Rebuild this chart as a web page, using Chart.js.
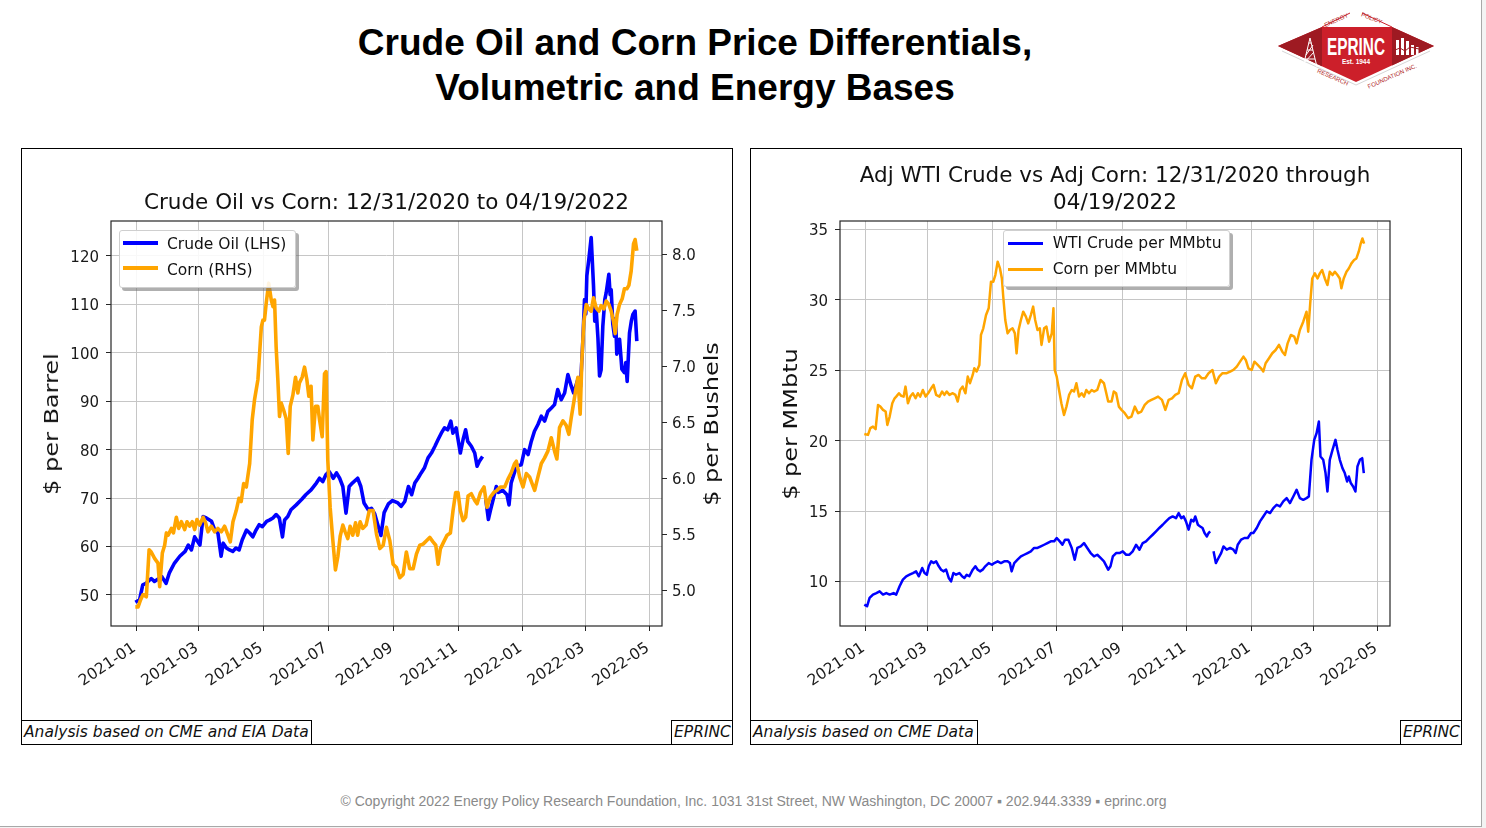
<!DOCTYPE html>
<html>
<head>
<meta charset="utf-8">
<script src="https://cdn.jsdelivr.net/npm/chart.js"></script>
<style>
html,body{margin:0;padding:0}
body{width:1486px;height:828px;background:#f3f3f3;position:relative;overflow:hidden;font-family:'DejaVu Sans',sans-serif}
#slide{position:absolute;left:0;top:0;width:1481px;height:826px;background:#fff;border-right:1px solid #a8a8a8;border-bottom:1px solid #a8a8a8}
.title{position:absolute;left:0;width:1390px;text-align:center;font-family:'Liberation Sans',Arial,sans-serif;font-weight:bold;font-size:37px;line-height:45px;color:#000}
.panel{position:absolute;top:148px;width:712px;height:597px;border:1px solid #000;box-sizing:border-box}
canvas{position:absolute}
.ctitle{position:absolute;font-size:21.5px;line-height:27.6px;color:#111;text-align:center;white-space:nowrap;transform:translateX(-50%)}
.ylab{position:absolute;font-size:20px;line-height:24px;white-space:nowrap;color:#111;transform:translate(-50%,-50%) rotate(-90deg) scale(1.2,1)}
.legend{position:absolute;border:1px solid #cfcfcf;border-radius:3px;background:rgba(255,255,255,0.88);box-shadow:3px 3px 0 rgba(110,110,110,0.55);box-sizing:border-box}
.sw{position:absolute;width:35px}
.lt{position:absolute;height:20px;font-size:15.5px;line-height:20px;color:#111;white-space:nowrap}
.note{position:absolute;top:720px;height:25px;border:1px solid #000;box-sizing:border-box;font-style:italic;font-size:15.5px;line-height:23px;padding-left:2px;white-space:nowrap;background:#fff;color:#111}
.footer{position:absolute;left:0;width:1507px;top:793px;text-align:center;font-family:'Liberation Sans',Arial,sans-serif;font-size:14px;line-height:16px;color:#8a8a8a;white-space:nowrap}
</style>
</head>
<body>
<div id="slide"></div>

<div class="title" style="top:20px">Crude Oil and Corn Price Differentials,</div>
<div class="title" style="top:65px">Volumetric and Energy Bases</div>

<svg width="180" height="92" viewBox="1268 0 180 92" style="position:absolute;left:1268px;top:0">
  <polygon points="1278,46 1322,27 1392,27 1434,46 1356,82" fill="#cc1f2a"/>
  <polygon points="1278,46 1322,27 1322,66.3" fill="#9e1a22"/>
  <polygon points="1434,46 1392,27 1392,65.4" fill="#9e1a22"/>
  <polyline points="1282,51 1356,85 1430,51" fill="none" stroke="#d6d6d6" stroke-width="1"/>
  <line x1="1322" y1="27" x2="1350" y2="13" stroke="#cc1f2a" stroke-width="1"/>
  <line x1="1392" y1="27" x2="1362" y2="13" stroke="#cc1f2a" stroke-width="1"/>
  <text x="1356" y="55" text-anchor="middle" font-family="'Liberation Sans Narrow','Liberation Sans',sans-serif" font-weight="bold" font-size="24" fill="#fff" textLength="58" lengthAdjust="spacingAndGlyphs">EPRINC</text>
  <text x="1356" y="63.5" text-anchor="middle" font-family="'Liberation Sans',sans-serif" font-weight="bold" font-size="6.5" fill="#fff">Est. 1944</text>
  <text transform="translate(1337,22) rotate(-24)" text-anchor="middle" font-family="'Liberation Sans',sans-serif" font-size="6" fill="#b01c22">ENERGY</text>
  <text transform="translate(1371,20) rotate(22)" text-anchor="middle" font-family="'Liberation Sans',sans-serif" font-size="6" fill="#b01c22">POLICY</text>
  <text transform="translate(1332,79) rotate(24)" text-anchor="middle" font-family="'Liberation Sans',sans-serif" font-size="6" fill="#b01c22">RESEARCH</text>
  <text transform="translate(1393,78) rotate(-24)" text-anchor="middle" font-family="'Liberation Sans',sans-serif" font-size="6" fill="#b01c22">FOUNDATION INC.</text>
  <path d="M1303,67 L1310,38 L1317,67 M1305,59 H1315 M1307,50 H1313 M1308.5,43 H1311.5 M1304,63 L1314,52 M1306,55 L1313,45" stroke="#fff" stroke-width="1" fill="none"/>
  <g fill="#fff">
    <rect x="1396" y="40" width="3" height="15"/><rect x="1401" y="38" width="3" height="17"/>
    <rect x="1406" y="41" width="3" height="14"/><rect x="1411" y="45" width="3" height="10"/>
    <rect x="1416" y="47" width="2.5" height="8"/>
  </g>
  <path d="M1395,50 L1400,48 L1405,51 L1410,47 L1419,49" stroke="#9e1a22" stroke-width="1" fill="none"/>
</svg>

<div class="panel" style="left:21px"></div>
<div class="panel" style="left:750px"></div>

<canvas id="c1" width="712" height="572" style="left:21px;top:148px;width:712px;height:572px"></canvas>
<canvas id="c2" width="712" height="572" style="left:750px;top:148px;width:712px;height:572px"></canvas>

<div class="ctitle" style="left:386.5px;top:187.6px">Crude Oil vs Corn: 12/31/2020 to 04/19/2022</div>
<div class="ctitle" style="left:1115px;top:160.5px">Adj WTI Crude vs Adj Corn: 12/31/2020 through<br>04/19/2022</div>

<div class="ylab" style="left:51px;top:423.5px">$ per Barrel</div>
<div class="ylab" style="left:711px;top:423.5px">$ per Bushels</div>
<div class="ylab" style="left:790px;top:423.5px">$ per MMbtu</div>

<div class="legend" style="left:118.7px;top:230px;width:177px;height:57.5px"></div>
<div class="sw" style="left:122.7px;top:240.7px;height:4px;background:#0000ff"></div>
<div class="sw" style="left:122.7px;top:266.3px;height:4px;background:#ffa500"></div>
<div class="lt" style="left:167px;top:234.3px">Crude Oil (LHS)</div>
<div class="lt" style="left:167px;top:260.3px">Corn (RHS)</div>

<div class="legend" style="left:1003.3px;top:230px;width:227px;height:57px"></div>
<div class="sw" style="left:1008.3px;top:241.8px;height:3px;background:#0000ff"></div>
<div class="sw" style="left:1008.3px;top:267.5px;height:3px;background:#ffa500"></div>
<div class="lt" style="left:1052.7px;top:233.3px">WTI Crude per MMbtu</div>
<div class="lt" style="left:1052.7px;top:259px">Corn per MMbtu</div>

<div class="note" style="left:21px;width:291px">Analysis based on CME and EIA Data</div>
<div class="note" style="left:671px;width:62px">EPRINC</div>
<div class="note" style="left:750px;width:228px">Analysis based on CME Data</div>
<div class="note" style="left:1400px;width:62px">EPRINC</div>

<div class="footer">© Copyright 2022 Energy Policy Research Foundation, Inc. 1031 31st Street, NW Washington, DC 20007 ▪ 202.944.3339 ▪ eprinc.org</div>

<script>
// x values are days counted from 2021-01-01
const tickDays = [0, 59, 120, 181, 243, 304, 365, 424, 485];
const tickLabels = ['2021-01','2021-03','2021-05','2021-07','2021-09','2021-11','2022-01','2022-03','2022-05'];
const barrelTicks = [50, 60, 70, 80, 90, 100, 110, 120];
const bushelTicks = [5.0, 5.5, 6.0, 6.5, 7.0, 7.5, 8.0];
const mmbtuTicks = [10, 15, 20, 25, 30, 35];

// Left chart: WTI crude, $ per barrel (null = missing data)
const leftOilDays = [-1,3,6,9,14,17,24,28,31,36,41,46,49,52,55,60,63,66,71,74,77,80,82,85,88,91,94,97,100,104,107,110,113,116,119,123,126,129,132,135,138,140,143,146,151,156,160,165,170,173,176,179,182,186,189,192,195,198,201,204,209,212,215,219,222,225,228,231,234,238,242,247,250,253.5,257,260,263,266,269,272,275.5,278.7,282,285,288,291,294,297,299,302,306,308.6,311,313,316.4,319.6,321.8,324,327,328,330,332.5,334.5,337,340,342,346,350,352,354,359,363.6,366.7,370,373,376,379.3,382.5,385.6,388.7,392,395,398,401.3,404.5,407.6,410.8,413,417,419.5,421.8,423.3,424.5,425.5,427.4,429.6,431.8,433,434.3,436,437.5,439,440.6,442.5,443.8,446.3,447.5,448.5,450,451.6,452.7,453.8,456.4,458.6,461,462.3,463.6,465.8,467.5,469,471.1,472.7];
const leftOilPrice = [48.5,49.0,52.1,52.4,53.4,52.8,53.8,52.4,54.5,56.6,58.0,59.0,60.3,59.3,62.0,60.3,66.2,65.9,65.2,63.4,62.8,58.0,60.7,59.7,59.3,59.0,59.7,59.3,61.4,63.4,62.8,62.0,63.4,64.5,64.1,65.2,65.5,65.9,66.6,65.9,62.0,65.5,66.2,67.6,68.6,69.7,70.7,71.7,73.1,74.1,73.4,74.8,75.5,74.1,75.2,74.1,72.4,66.9,72.4,73.1,74.1,72.4,69.0,67.6,67.9,66.8,64.5,62.3,67.0,68.8,69.5,69.0,68.3,69.3,72.4,70.7,73.1,74.1,75.2,76.2,78.3,79.3,80.7,82.1,83.4,84.5,84.1,85.9,83.4,84.5,79.3,82.1,84.1,81.7,80.7,79.3,76.6,77.6,78.6,null,69.8,65.6,67.5,69.7,72.4,71.2,71.6,70.7,68.6,73.1,76.6,76.9,80.0,79.0,81.7,83.8,85.2,86.9,85.9,87.9,88.6,89.3,92.4,90.3,91.7,95.5,93.1,91.7,94.5,93.0,102.8,111.0,108.0,115.9,119.3,123.8,113.8,106.5,109.0,103.0,95.2,96.5,105.5,111.0,112.4,116.2,112.0,113.0,106.0,103.4,107.0,99.7,102.8,96.6,95.9,98.0,94.1,104.1,106.5,107.9,108.6,102.4];

// Left chart: corn, $ per bushel
const leftCornDays = [-1,1.6,3.8,6.3,9.4,12,14,17.3,20.4,22,24.5,26.7,28.3,30,33,35,37.7,40,42.5,45.6,47.8,50.3,52.8,55,57.2,59.7,63,65.4,67.6,70.8,73.9,77,80.2,83.3,86.5,88.7,91.2,94.3,96.9,99,101.3,103.8,107,109.4,111.6,114.8,118,119.5,121,122.6,125,127.4,129,130.5,132,133.6,135.2,136.8,139,141.5,143.4,145.3,147.8,150.3,152.5,154,156.6,158.8,161,162.9,165,166.7,169.2,171.4,173,175.5,177.7,179.2,180.8,183,185.5,188,190.3,192.5,195,197.2,199.7,201.9,204.4,207,209,211.3,213.8,217,220,223.6,226.8,230,233.1,236.2,239.4,242.5,245.7,248.8,252,255,258.2,261.4,264.5,267.7,270.8,274,277.1,280.2,282.8,285,287.2,290.3,293.5,296.6,299.1,301.6,303.8,306,308.6,311,313.3,316.4,319.6,321.8,325,328.4,331.2,334.3,337.5,340.6,343.8,347.9,351,354.2,357.3,358.9,362,365.2,368.3,371.4,376.2,379.3,382.5,385.6,388.7,391.9,395,397.2,399.7,402.9,406,408.5,410.8,413.9,417,419.2,420.8,422.7,424.9,427.4,429.6,431.8,434.3,436.9,439,441.6,443.8,446.3,448.5,450.7,452.3,454.1,456.4,458.9,461,463.3,465.2,467.4,469.6,471.1,472.7];
const leftCornPrice = [4.85,4.85,4.91,4.96,4.94,5.36,5.34,5.28,5.24,5.03,5.33,5.40,5.51,5.49,5.55,5.51,5.65,5.55,5.61,5.54,5.61,5.57,5.61,5.54,5.63,5.58,5.65,5.60,5.52,5.57,5.52,5.55,5.52,5.57,5.49,5.43,5.61,5.71,5.82,5.79,5.95,5.92,6.13,6.52,6.70,6.88,7.35,7.41,7.41,7.56,7.74,7.59,7.53,7.59,7.17,6.88,6.55,6.67,6.61,6.53,6.22,6.64,6.74,6.90,6.76,6.85,6.90,6.99,6.88,6.73,6.82,6.34,6.64,6.64,6.52,6.37,6.93,6.95,6.16,5.74,5.45,5.18,5.30,5.48,5.58,5.52,5.46,5.57,5.49,5.60,5.49,5.61,5.55,5.58,5.71,5.71,5.50,5.37,5.40,5.56,5.44,5.23,5.20,5.11,5.14,5.34,5.19,5.19,5.32,5.40,5.41,5.44,5.47,5.43,5.40,5.23,5.37,5.43,5.49,5.51,5.71,5.87,5.87,5.71,5.62,5.65,5.84,5.86,5.80,5.77,5.87,5.92,5.74,5.83,5.87,5.89,5.92,5.92,5.99,6.05,6.13,6.15,6.01,5.92,6.04,6.01,5.89,6.01,6.13,6.18,6.24,6.36,6.24,6.17,6.45,6.51,6.47,6.39,6.54,6.72,6.90,6.57,7.05,7.40,7.55,7.51,7.49,7.61,7.52,7.49,7.54,7.51,7.58,7.55,7.49,7.40,7.29,7.46,7.55,7.60,7.69,7.69,7.72,7.85,8.09,8.13,8.03];

// Right chart: WTI crude per MMbtu (null = missing data)
const rightOilDays = [-1,1.6,4,7.2,10.4,13.5,16.7,19.8,23,26.7,29.2,32.4,35.5,38.7,41.8,45,48,50.6,53.8,56,58.2,60,62.3,64.5,67,69.5,71.7,73.9,76.4,78.9,81.1,83.3,85.8,89,91.5,93.7,95.9,98.4,101.6,104.1,106.3,108.5,111,113.5,116.7,119.8,122,125.2,128.3,131.4,134.6,136.8,138.4,140.9,144,147.2,150.3,153.5,156.6,159.7,162.9,166,169.2,172.3,175.5,178.6,181.1,184,186.5,189,192.1,195.3,198.1,200.6,203.8,206.9,210,213.2,216.4,219.5,222.6,225.8,229.8,232,234.2,237.3,240.5,243.6,246.8,249.9,253,256.2,259.4,262.5,265.6,268.8,271.9,275.1,278.2,281.4,284.5,287.7,290.8,294,296.5,299,301.2,303.4,305.9,308.4,310.6,312.2,314.7,316.9,319.1,321,323.2,324.8,326.3,328,329.5,331.7,334.2,336.7,338.9,342,345.2,348.3,350.5,352.4,355.6,358.7,361.9,365,367.2,370.4,373.5,376.6,379.8,383,386.1,389.2,392.4,395.5,398.7,401.8,405,408.1,411.2,414.4,417.5,419.7,422.2,424.8,427,429.2,430.7,433.3,435.5,437.3,439.5,442.1,444.9,446.8,449,451.5,453.7,455.9,457.5,459.4,461.6,463.8,465.7,468,470.2,471.7];
const rightOilMMbtu = [8.36,8.24,8.83,9.07,9.18,9.30,9.07,9.18,9.07,9.18,9.07,9.66,10.13,10.37,10.48,10.60,10.72,10.37,10.96,10.60,10.48,11.08,11.43,11.31,11.43,11.08,10.84,10.72,10.84,10.25,10.01,10.60,10.48,10.60,10.37,10.25,10.48,10.37,10.84,11.08,10.84,10.72,10.84,11.08,11.31,11.19,11.31,11.43,11.31,11.43,11.43,11.31,10.72,11.31,11.55,11.78,11.90,12.02,12.14,12.38,12.38,12.49,12.61,12.73,12.85,12.85,13.09,12.85,12.61,12.97,12.97,12.38,11.55,12.38,12.49,12.73,12.38,12.02,11.78,11.90,11.67,11.43,10.84,11.08,11.78,12.02,12.02,12.14,11.90,11.90,12.14,12.61,12.26,12.73,12.85,13.09,13.32,13.56,13.80,14.03,14.27,14.50,14.62,14.50,14.86,14.50,14.62,14.27,13.68,14.39,14.27,14.62,14.03,13.91,13.80,13.44,13.20,13.44,13.56,null,12.14,11.31,11.67,12.02,12.49,12.26,12.38,12.26,12.02,12.61,12.97,13.09,13.09,13.44,13.44,13.80,14.27,14.62,14.98,14.86,15.21,15.45,15.33,15.69,15.92,15.57,16.04,16.51,15.92,15.80,15.92,16.04,18.64,20.06,20.53,21.36,18.88,18.64,17.70,16.39,18.64,19.35,20.06,19.35,18.64,18.05,17.70,17.10,17.46,16.99,16.75,16.39,18.17,18.64,18.76,17.70];

// Right chart: corn per MMbtu
const rightCornDays = [-1,2.5,4.7,7.2,9.7,12,14.2,16.7,19.2,20.8,23,25.5,27.7,29.2,31.8,34,36.2,38,40.3,42.5,45,47.5,49.7,51.9,54.4,57,59.4,62.3,64.5,67,70.1,72.6,74.8,77,79.6,82.7,85.2,87.4,89.6,92.1,94.7,96.9,99,101.6,103.1,105.3,107.9,109.4,111.6,114.2,116.7,118.9,121.1,123,125.2,127.4,129.2,130.5,132.4,134.6,136.8,139.3,141.5,143.1,145,147.2,149.4,151.9,154.1,156.6,158.8,160.7,162.9,165.1,166.7,169.2,171.4,173.9,176.4,178,179.2,181.1,183.3,185.5,188,190.3,192.8,195.3,197.5,199.7,202.2,204.7,206.9,209.1,211.6,214.2,216.4,219.5,222.6,225.8,227.3,229.8,233,235.1,237.3,239.9,242.4,245.5,248.7,251.8,255,258.1,261.2,264.4,267.5,270.7,273.8,277,280.7,283.9,287,290.2,293.3,296.5,299.6,302.7,305.9,309,312.2,315.3,318.5,321.6,324.8,328.5,331.7,334.8,338,342,345.2,348.3,351.5,354.6,357.8,360,362.5,365.6,368.2,371.3,374.4,376.6,378.8,382,385.1,388.3,391.4,394.6,397.1,399.6,402.7,405.9,408.1,411.2,414.4,417.5,419.1,421,422.9,425.4,427.9,430.1,432.3,434.8,437.3,439.5,442.1,444.3,446.8,449,450.5,452.7,455.3,457.5,460,462.5,464.7,466.9,468.8,470.4,472];
const rightCornMMbtu = [20.48,20.41,20.89,21.00,20.82,22.54,22.42,22.19,22.07,21.12,21.71,22.66,23.01,23.13,23.37,23.18,23.13,23.84,22.66,23.13,23.37,23.01,23.37,23.13,23.60,23.13,23.37,23.72,23.96,23.25,23.13,23.49,23.25,23.49,23.25,23.37,23.25,22.78,23.60,23.84,23.37,24.55,24.08,24.67,25.14,24.91,25.38,27.51,27.98,28.92,29.40,31.29,31.29,31.76,32.71,32.23,31.52,30.22,28.57,27.62,27.86,27.98,27.62,26.20,27.86,28.57,29.16,28.81,28.33,28.92,29.52,28.57,27.86,27.98,26.80,27.98,28.10,27.03,27.62,29.40,25.02,24.55,23.60,22.66,21.83,22.42,23.25,23.60,23.49,24.08,23.13,23.37,23.13,23.60,23.37,23.60,23.49,23.60,24.31,24.08,23.60,22.78,22.78,23.49,23.37,22.42,22.19,21.95,21.60,21.71,22.42,21.95,22.07,22.54,22.78,22.90,23.01,23.13,22.90,22.19,22.90,23.01,23.25,23.37,24.31,24.79,23.96,23.72,24.55,24.67,24.43,24.43,24.79,25.02,24.08,24.55,24.79,24.79,24.91,25.02,25.26,25.61,25.97,25.73,25.14,25.02,25.61,25.38,25.14,24.91,25.50,25.85,26.21,26.44,26.80,26.32,26.09,26.91,27.51,27.39,26.91,27.86,28.45,29.16,27.74,29.75,31.52,31.88,31.52,31.88,32.12,31.52,31.05,32.00,31.76,32.00,31.76,31.52,30.82,31.52,32.00,32.23,32.59,32.83,32.94,33.42,34.00,34.36,34.00];

Chart.defaults.font.family = "'DejaVu Sans', sans-serif";

const pts = (xs, ys) => xs.map((x, i) => ({x: x, y: ys[i]}));

const framePlugin = {
  id: 'frame',
  afterDatasetsDraw(chart) {
    const {ctx, chartArea: a} = chart;
    ctx.save();
    ctx.strokeStyle = '#262626';
    ctx.lineWidth = 1.2;
    ctx.strokeRect(a.left, a.top, a.right - a.left, a.bottom - a.top);
    ctx.restore();
  }
};

const tickFont = {size: 15};
const tickColor = '#1a1a1a';
const gridCfg = {color: '#c6c6c6', lineWidth: 1, drawTicks: true, tickLength: 5, tickColor: '#262626'};

function xAxis() {
  return {
    type: 'linear', position: 'bottom', min: -24, max: 496.5,
    afterBuildTicks: s => { s.ticks = tickDays.map(v => ({value: v})); },
    afterFit: s => { s.height = 80; },
    grid: gridCfg,
    border: {display: false},
    ticks: {autoSkip: false, maxRotation: 34, minRotation: 34, padding: 8, labelOffset: -2, color: tickColor, font: {size: 15.5},
            callback: (v, i) => tickLabels[i]}
  };
}

function yAxis(ticks, min, max, pos, onArea, fmt) {
  return {
    type: 'linear', position: pos, min: min, max: max,
    afterBuildTicks: s => { s.ticks = ticks.map(v => ({value: v})); },
    afterFit: s => { s.width = pos === 'left' ? 60 : 55; },
    grid: Object.assign({}, gridCfg, {drawOnChartArea: onArea}),
    border: {display: false},
    ticks: {padding: pos === 'left' ? 7 : 5, labelOffset: 2, color: tickColor, font: tickFont, callback: fmt}
  };
}

function lineDs(label, data, color, width, axis, order) {
  return {label: label, data: data, borderColor: color, backgroundColor: color, borderWidth: width,
          pointRadius: 0, pointHoverRadius: 0, tension: 0, spanGaps: false, yAxisID: axis, order: order,
          borderJoinStyle: 'round', borderCapStyle: 'butt', fill: false};
}

const common = {
  responsive: false, animation: false, events: [],
  plugins: {legend: {display: false}, tooltip: {enabled: false}, title: {display: false}}
};

new Chart(document.getElementById('c1'), {
  type: 'line',
  data: {datasets: [
    lineDs('Corn (RHS)', pts(leftCornDays, leftCornPrice), '#ffa500', 3.6, 'y1', 0),
    lineDs('Crude Oil (LHS)', pts(leftOilDays, leftOilPrice), '#0000ff', 3.6, 'y', 1)
  ]},
  options: Object.assign({}, common, {
    layout: {padding: {left: 30, right: 16, top: 73, bottom: 14}},
    scales: {
      x: xAxis(),
      y: yAxis(barrelTicks, 43.6, 127.2, 'left', true, v => String(v)),
      y1: yAxis(bushelTicks, 4.679, 8.295, 'right', false, v => v.toFixed(1))
    }
  }),
  plugins: [framePlugin]
});

new Chart(document.getElementById('c2'), {
  type: 'line',
  data: {datasets: [
    lineDs('Corn per MMbtu', pts(rightCornDays, rightCornMMbtu), '#ffa500', 2.5, 'y', 0),
    lineDs('WTI Crude per MMbtu', pts(rightOilDays, rightOilMMbtu), '#0000ff', 2.5, 'y', 1)
  ]},
  options: Object.assign({}, common, {
    layout: {padding: {left: 30, right: 72, top: 73, bottom: 14}},
    scales: {
      x: xAxis(),
      y: yAxis(mmbtuTicks, 6.84, 35.6, 'left', true, v => String(v))
    }
  }),
  plugins: [framePlugin]
});
</script>
</body>
</html>
